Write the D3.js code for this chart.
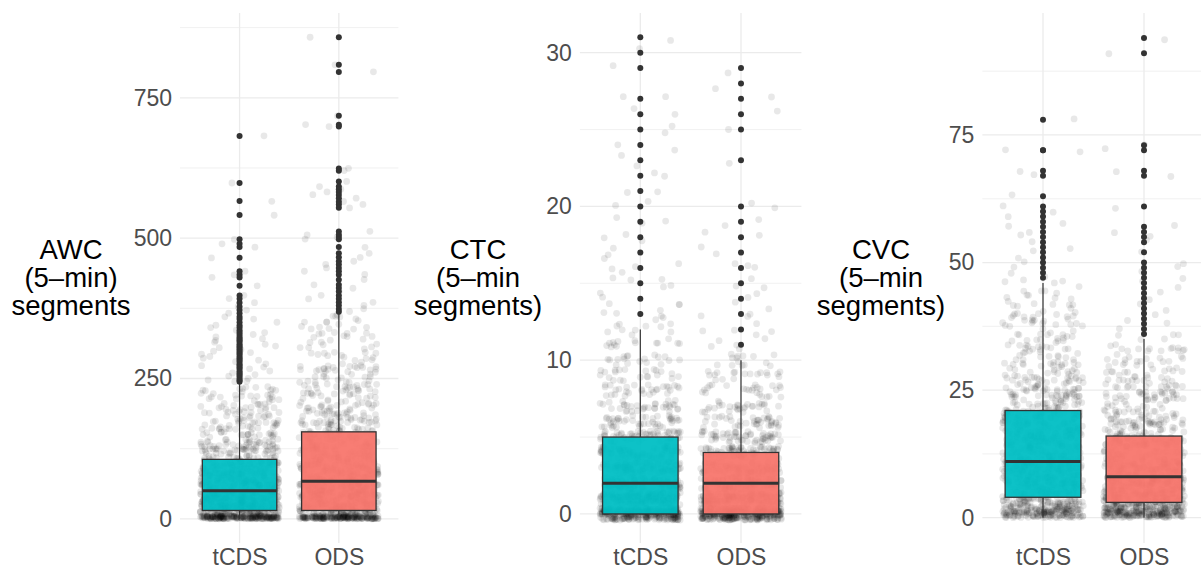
<!DOCTYPE html>
<html>
<head>
<meta charset="utf-8">
<script src="https://cdn.jsdelivr.net/npm/d3@7"></script>
<style>
  body { margin: 0; background: #fff; }
  svg text { font-family: "Liberation Sans", Arial, Helvetica, sans-serif; }
</style>
</head>
<body>
<div id="chart"></div>
<script>
// groups and colours
const categories = ["tCDS", "ODS"];
const fills = ["#00BFC4", "#F8766D"];

// ---- AWC ----
const awcTicks = [0, 250, 500, 750];
const awcMinor = [125, 375, 625, 875];
const awcDomain = [-43, 901];
// [lower whisker, q1, median, q3, upper whisker]
const awcBox = [[0, 15, 50, 106, 240], [0, 15, 67, 155, 365]];
const awcOutTCDS = [682, 598, 566, 541, 498, 490, 484, 465, 441, 435, 430, 415, 398, 392, 385, 378, 372, 366, 360,
  356, 350, 345, 341, 336, 332, 328, 324, 321, 318, 315, 311, 308, 305, 302, 299, 296, 293, 289, 286, 283, 280,
  276, 273, 270, 267, 263, 260, 257, 254, 250, 247, 244];
const awcOutODS = [858, 809, 796, 718, 702, 699, 624, 620, 601, 592, 587, 582, 577, 571, 565, 560, 554, 512, 506,
  502, 498, 484, 473, 466, 459, 453, 447, 441, 435, 426, 417, 411, 405, 398, 392, 386, 380, 374, 369];
const awcBinLo = [0, 5, 25, 50, 75, 100, 125, 150, 175, 200, 225, 250, 300];
const awcBinHi = [5, 25, 50, 75, 100, 125, 150, 175, 200, 225, 250, 300, 365];
const awcCountTCDS = [190, 160, 170, 115, 95, 70, 50, 40, 32, 25, 12, 0, 0];
const awcCountODS = [180, 115, 120, 110, 85, 70, 60, 50, 40, 32, 28, 45, 35];

// ---- CTC (integer counts) ----
const ctcTicks = [0, 10, 20, 30];
const ctcMinor = [5, 15, 25];
const ctcDomain = [-1.89, 32.58];
const ctcBox = [[0, 0, 2, 5, 12], [0, 0, 2, 4, 10]];
const ctcOutTCDS = [13, 14, 15, 16, 17, 18, 19, 20, 21, 22, 23, 24, 25, 26, 27, 29, 30, 31];
const ctcOutODS = [11, 12, 13, 14, 15, 16, 17, 18, 19, 20, 23, 25, 26, 27, 28, 29];
const ctcLevels = d3.range(0, 32);
const ctcCountTCDS = [310, 155, 115, 95, 75, 62, 45, 35, 30, 22, 18, 14, 10,
  6, 5, 5, 4, 3, 3, 3, 2, 2, 2, 2, 2, 2, 2, 2, 0, 1, 1, 1];
const ctcCountODS = [340, 155, 115, 92, 72, 55, 40, 30, 25, 18, 14, 5, 5,
  4, 3, 3, 3, 2, 2, 2, 2, 0, 0, 1, 0, 1, 1, 1, 1, 1, 0, 0];

// ---- CVC ----
const cvcTicks = [0, 25, 50, 75];
const cvcMinor = [12.5, 37.5, 62.5, 87.5];
const cvcDomain = [-4.96, 98.9];
const cvcBox = [[0, 4, 11, 21, 46], [0, 3, 8, 16, 35]];
const cvcOutTCDS = [78, 72, 72, 68, 67, 63, 61, 60, 59, 58, 57, 56, 55, 54, 53, 52, 51, 50, 49, 48, 47];
const cvcOutODS = [94, 91, 73, 72, 68, 67, 61, 57, 56, 55, 54, 52, 50, 49, 48, 47, 46, 45, 44, 43, 42, 41, 40,
  39, 38, 37, 36];
const cvcBinLo = [0, 1.5, 3, 5, 8, 11, 16, 21, 26, 31, 36, 41];
const cvcBinHi = [1.5, 3, 5, 8, 11, 16, 21, 26, 31, 36, 41, 47];
const cvcCountTCDS = [130, 75, 75, 100, 95, 130, 130, 80, 60, 40, 30, 22];
const cvcCountODS = [160, 100, 100, 130, 110, 130, 85, 60, 40, 25, 0, 0];

const width = 1201, height = 569;
const plotTop = 13, plotBottom = 543;

const svg = d3.select("#chart").append("svg")
  .attr("width", width).attr("height", height)
  .attr("viewBox", [0, 0, width, height]);

// bins -> list of y intervals, one per point
function binsToCloud(lo, hi, counts) {
  let out = [];
  counts.forEach((c, i) => { for (let k = 0; k < c; k++) out.push([lo[i], hi[i]]); });
  return out;
}

// deterministic jitter offset in [0,1)
function hash(n) {
  const s = Math.sin(n * 12.9898 + 78.233) * 43758.5453;
  return s - Math.floor(s);
}

const panels = [
  {
    title: ["AWC", "(5\u2013min)", "segments"], titleX: 71, left: 180, right: 398.4,
    domain: awcDomain, ticks: awcTicks, minor: awcMinor, box: awcBox,
    outliers: [awcOutTCDS, awcOutODS],
    cloud: [
      binsToCloud(awcBinLo, awcBinHi, awcCountTCDS).concat(awcOutTCDS.map(v => [v - 0.4, v + 0.4])),
      binsToCloud(awcBinLo, awcBinHi, awcCountODS).concat(awcOutODS.map(v => [v - 0.4, v + 0.4]))
    ]
  },
  {
    title: ["CTC", "(5\u2013min", "segments)"], titleX: 478, left: 579.9, right: 801.4,
    domain: ctcDomain, ticks: ctcTicks, minor: ctcMinor, box: ctcBox,
    outliers: [ctcOutTCDS, ctcOutODS],
    cloud: [
      binsToCloud(ctcLevels.map(v => v - 0.4), ctcLevels.map(v => v + 0.4), ctcCountTCDS),
      binsToCloud(ctcLevels.map(v => v - 0.4), ctcLevels.map(v => v + 0.4), ctcCountODS)
    ]
  },
  {
    title: ["CVC", "(5\u2013min", "segments)"], titleX: 881, left: 982.4, right: 1204.6,
    domain: cvcDomain, ticks: cvcTicks, minor: cvcMinor, box: cvcBox,
    outliers: [cvcOutTCDS, cvcOutODS],
    cloud: [
      binsToCloud(cvcBinLo, cvcBinHi, cvcCountTCDS).concat(cvcOutTCDS.map(v => [v - 0.4, v + 0.4])),
      binsToCloud(cvcBinLo, cvcBinHi, cvcCountODS).concat(cvcOutODS.map(v => [v - 0.4, v + 0.4]))
    ]
  }
];

panels.forEach((p, pi) => {
  const x = d3.scalePoint().domain(categories).range([p.left, p.right]).padding(0.6);
  const y = d3.scaleLinear().domain(p.domain).range([plotBottom, plotTop]);
  const step = x.step();
  const g = svg.append("g");

  // grid
  g.selectAll(".minor").data(p.minor).join("line")
    .attr("x1", p.left).attr("x2", p.right)
    .attr("y1", d => y(d)).attr("y2", d => y(d))
    .attr("stroke", "#ebebeb").attr("stroke-width", 0.7);
  g.selectAll(".major").data(p.ticks).join("line")
    .attr("x1", p.left).attr("x2", p.right)
    .attr("y1", d => y(d)).attr("y2", d => y(d))
    .attr("stroke", "#ebebeb").attr("stroke-width", 1.3);
  g.selectAll(".vgrid").data(categories).join("line")
    .attr("x1", d => x(d)).attr("x2", d => x(d))
    .attr("y1", plotTop).attr("y2", plotBottom)
    .attr("stroke", "#ebebeb").attr("stroke-width", 1.3);

  // y axis labels
  const yAxis = g.append("g")
    .attr("transform", `translate(${p.left},0)`)
    .call(d3.axisLeft(y).tickValues(p.ticks).tickSize(0).tickPadding(8));
  yAxis.select(".domain").remove();
  yAxis.selectAll("text").attr("font-size", 23).attr("fill", "#4d4d4d")
    .attr("font-family", "Liberation Sans, Arial, sans-serif");

  // x axis labels
  const xAxis = g.append("g")
    .attr("transform", `translate(0,${plotBottom})`)
    .call(d3.axisBottom(x).tickSize(0).tickPadding(6));
  xAxis.select(".domain").remove();
  xAxis.selectAll("text").attr("font-size", 23).attr("fill", "#4d4d4d")
    .attr("font-family", "Liberation Sans, Arial, sans-serif");

  // axis title
  g.append("text")
    .attr("text-anchor", "middle")
    .attr("font-size", 27.5).attr("fill", "#000")
    .selectAll("tspan").data(p.title).join("tspan")
    .attr("x", p.titleX).attr("y", (d, i) => 259 + i * 28)
    .text(d => d);

  // jittered points
  categories.forEach((c, ci) => {
    const pts = p.cloud[ci].map((iv, k) => {
      const seed = pi * 10007 + ci * 5003 + k;
      const u = hash(seed * 1.37 + 0.5);
      const v = hash(seed * 2.11 + 17.3);
      return { x: x(c) + (u - 0.5) * 0.8 * step, y: y(iv[0] + v * (iv[1] - iv[0])) };
    });
    g.append("g").selectAll("circle").data(pts).join("circle")
      .attr("cx", d => d.x).attr("cy", d => d.y).attr("r", 3.4)
      .attr("fill", "#000").attr("fill-opacity", 0.09);
  });

  // boxplots
  categories.forEach((c, ci) => {
    const [lo, q1, med, q3, hi] = p.box[ci];
    const bw = 0.75 * step, cx = x(c);
    g.append("line").attr("x1", cx).attr("x2", cx).attr("y1", y(q3)).attr("y2", y(hi))
      .attr("stroke", "#333").attr("stroke-width", 1.2);
    g.append("line").attr("x1", cx).attr("x2", cx).attr("y1", y(lo)).attr("y2", y(q1))
      .attr("stroke", "#333").attr("stroke-width", 1.2);
    g.append("rect").attr("x", cx - bw / 2).attr("width", bw)
      .attr("y", y(q3)).attr("height", y(q1) - y(q3))
      .attr("fill", fills[ci]).attr("fill-opacity", 0.95)
      .attr("stroke", "#333").attr("stroke-width", 1.3);
    g.append("line").attr("x1", cx - bw / 2).attr("x2", cx + bw / 2)
      .attr("y1", y(med)).attr("y2", y(med))
      .attr("stroke", "#333").attr("stroke-width", 3);
    g.append("g").selectAll("circle").data(p.outliers[ci]).join("circle")
      .attr("cx", cx).attr("cy", d => y(d)).attr("r", 3)
      .attr("fill", "#333");
  });
});
</script>
</body>
</html>
